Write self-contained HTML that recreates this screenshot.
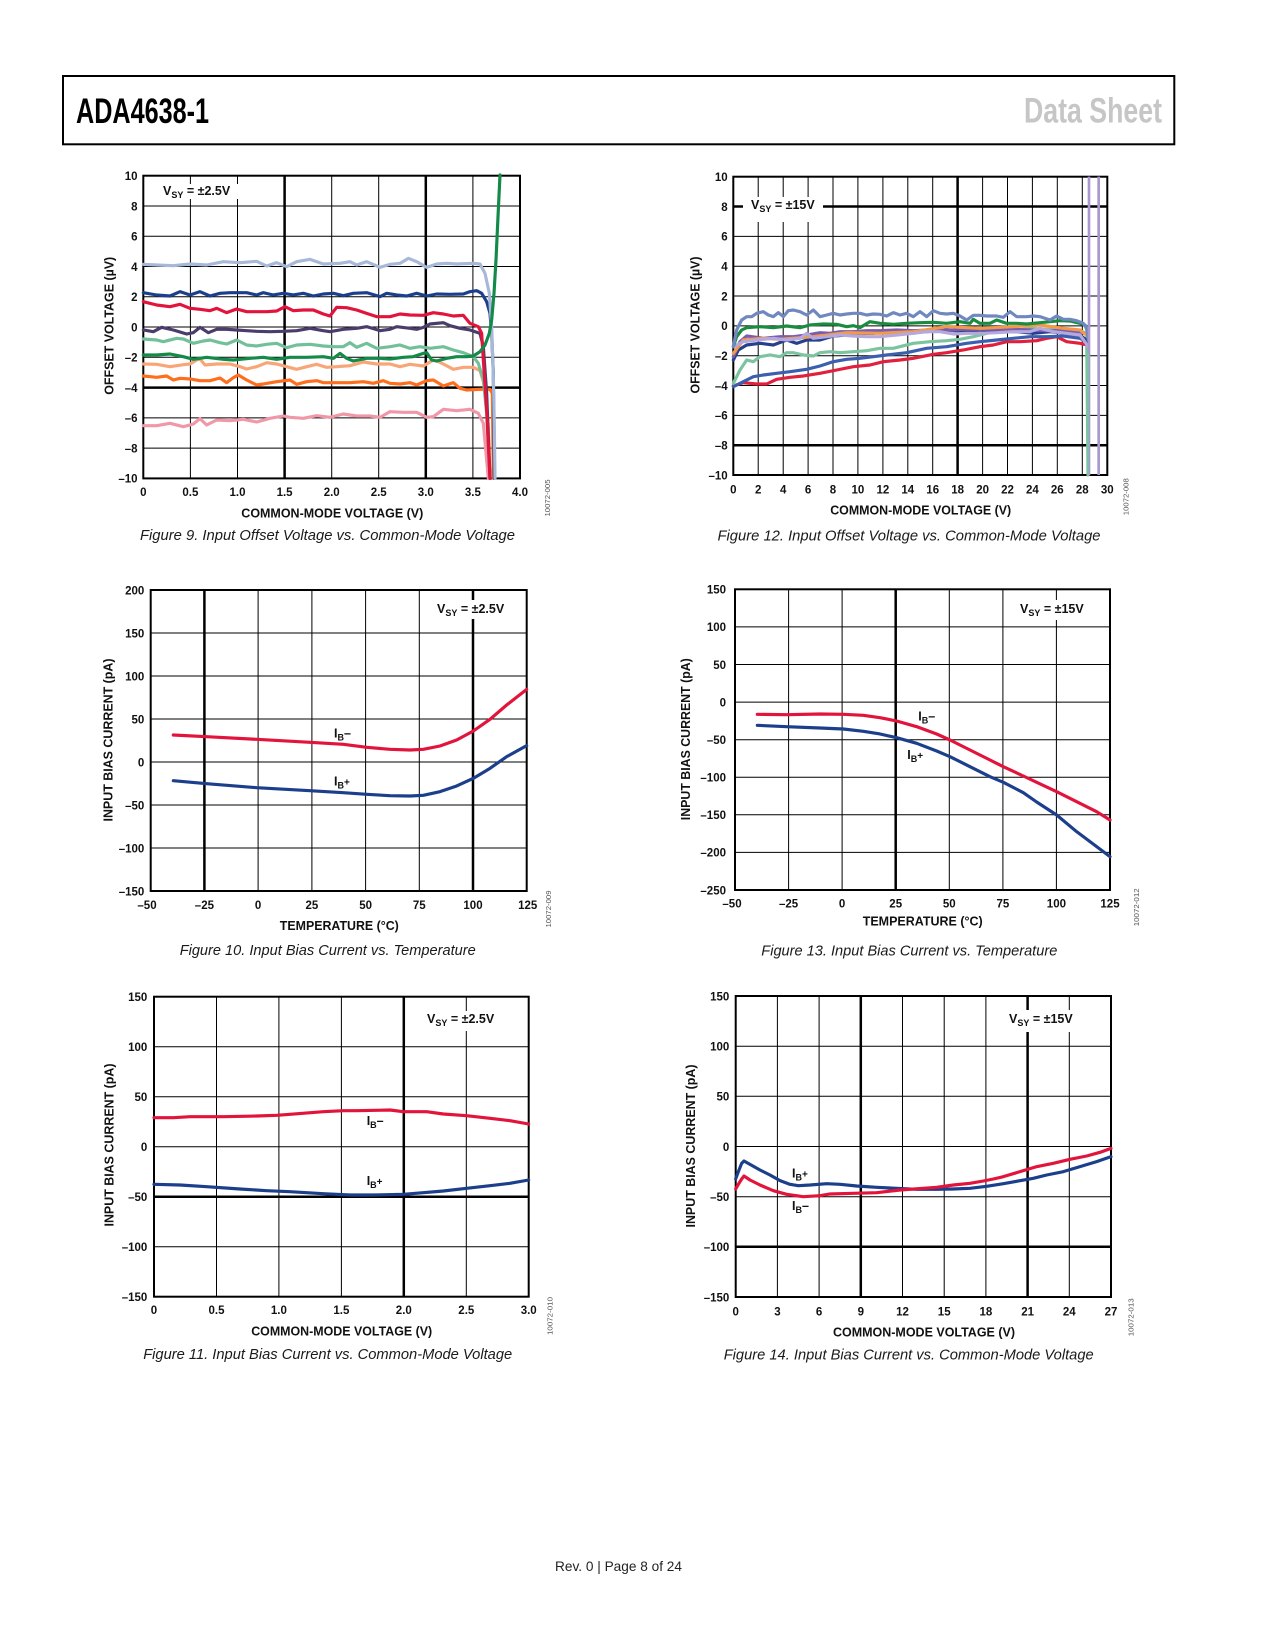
<!DOCTYPE html>
<html><head><meta charset="utf-8"><style>
html,body{margin:0;padding:0;background:#fff;}
svg{display:block;font-family:"Liberation Sans",Arial,sans-serif;}
.tk{font-size:11.5px;font-weight:bold;fill:#111;}
.ax{font-size:12.5px;font-weight:bold;fill:#111;}
.cap{font-size:15px;font-style:italic;fill:#1a1a1a;}
.id{font-size:7px;fill:#555;}
.lb{font-size:12.5px;font-weight:bold;fill:#111;}
.c{fill:none;stroke-width:9.5;stroke-linejoin:round;stroke-linecap:round;}
</style></head><body>
<svg width="1275" height="1650" viewBox="0 0 1275 1650" xmlns="http://www.w3.org/2000/svg">
<rect width="1275" height="1650" fill="#fff"/>
<!-- header -->
<rect x="63" y="76" width="1111.3" height="68.3" fill="none" stroke="#000" stroke-width="2"/>
<text x="76" y="123" font-size="35" font-weight="bold" fill="#000" textLength="133" lengthAdjust="spacingAndGlyphs">ADA4638-1</text>
<text x="1024" y="122.7" font-size="35" font-weight="bold" fill="#c6c6c6" textLength="138" lengthAdjust="spacingAndGlyphs">Data Sheet</text>

<!-- ============ FIG 9 ============ -->
<g stroke="#000" stroke-width="1">
<line x1="190.4" y1="175.7" x2="190.4" y2="478.4"/><line x1="237.5" y1="175.7" x2="237.5" y2="478.4"/><line x1="331.7" y1="175.7" x2="331.7" y2="478.4"/><line x1="378.7" y1="175.7" x2="378.7" y2="478.4"/><line x1="472.9" y1="175.7" x2="472.9" y2="478.4"/>
<line x1="143.3" y1="206" x2="520" y2="206"/><line x1="143.3" y1="236.2" x2="520" y2="236.2"/><line x1="143.3" y1="266.5" x2="520" y2="266.5"/><line x1="143.3" y1="296.8" x2="520" y2="296.8"/><line x1="143.3" y1="327" x2="520" y2="327"/><line x1="143.3" y1="357.3" x2="520" y2="357.3"/><line x1="143.3" y1="417.9" x2="520" y2="417.9"/><line x1="143.3" y1="448.1" x2="520" y2="448.1"/>
</g>
<g stroke="#000" stroke-width="2.5">
<line x1="284.6" y1="175.7" x2="284.6" y2="478.4"/><line x1="425.8" y1="175.7" x2="425.8" y2="478.4"/>
<line x1="143.3" y1="387.6" x2="520" y2="387.6"/>
</g>
<rect x="143.3" y="175.7" width="376.7" height="302.7" fill="none" stroke="#000" stroke-width="2"/>
<rect x="155" y="184" width="83" height="15" fill="#fff"/>
<text class="lb" x="163" y="195">V<tspan font-size="9" dy="3">SY</tspan><tspan dy="-3"> = ±2.5V</tspan></text>
<g transform="translate(90,160) scale(0.33333)">
<polyline class="c" stroke="#f098a8" points="160,797 200,797 240,790 280,800 310,792 330,776 350,795 380,780 420,782 460,778 500,786 540,775 580,768 600,772 640,775 680,767 720,772 760,762 800,768 840,768 870,772 900,755 940,757 980,757 1010,772 1030,770 1060,748 1100,752 1140,748 1165,760 1180,790 1190,900 1195,955"/>
<polyline class="c" stroke="#f8a678" points="160,612 200,613 240,620 280,614 300,612 320,600 330,597 345,615 380,612 420,612 450,620 470,627 500,620 530,608 560,612 590,620 620,628 650,620 680,613 710,622 740,620 780,617 820,606 860,612 900,612 930,620 960,613 1000,618 1030,600 1045,605 1060,612 1090,628 1120,622 1150,622 1170,632 1185,680 1195,800 1200,955"/>
<polyline class="c" stroke="#ff6e1c" points="160,648 200,652 230,648 250,660 270,655 300,657 330,662 360,662 390,654 410,668 430,653 445,645 470,660 500,675 520,672 560,665 600,660 620,673 650,665 680,662 700,668 740,668 780,668 820,665 850,670 880,662 900,670 930,672 960,668 980,675 1010,662 1030,660 1060,678 1090,668 1110,685 1130,690 1170,688 1200,688 1207,700 1210,955"/>
<polyline class="c" stroke="#72c09a" points="160,537 200,540 220,545 260,535 280,537 310,550 340,543 360,540 390,548 410,552 440,540 470,555 500,558 530,553 560,550 590,563 620,555 660,553 700,558 730,560 760,560 780,548 800,562 830,550 860,565 900,560 930,555 960,565 990,560 1020,565 1060,560 1090,570 1120,578 1150,590 1165,610 1180,660 1190,760 1200,955"/>
<polyline class="c" stroke="#4b3c6b" points="160,510 190,515 215,502 250,510 290,522 310,518 330,502 355,518 380,508 410,508 440,510 470,512 500,514 540,515 580,514 620,512 660,505 700,512 720,515 760,508 800,505 830,500 870,512 900,508 920,500 960,505 980,508 1000,502 1020,492 1060,488 1080,497 1110,505 1140,510 1170,520 1180,560 1190,700 1200,955"/>
<polyline class="c" stroke="#e3143c" points="160,425 200,435 240,440 270,433 300,445 330,448 360,452 380,445 410,458 440,447 470,455 500,455 530,455 560,453 585,440 610,452 640,450 670,450 700,462 720,468 740,442 770,443 800,450 830,460 860,470 900,470 930,462 960,465 1000,466 1030,458 1060,462 1090,468 1120,466 1140,490 1165,500 1175,520 1180,600 1190,750 1200,955"/>
<polyline class="c" stroke="#1c3f8c" points="160,398 200,405 240,408 270,395 300,405 330,395 360,408 390,400 420,398 470,398 500,405 520,398 550,405 580,400 610,405 640,400 670,408 700,402 730,400 760,407 790,400 830,398 870,410 890,400 920,405 950,408 980,400 1010,408 1040,402 1080,403 1120,402 1140,395 1160,392 1175,400 1190,425 1200,460 1205,520 1210,640 1213,955"/>
<polyline class="c" stroke="#a8b8d8" points="160,313 200,315 250,317 300,312 350,315 400,305 450,308 500,304 530,318 560,308 590,320 620,305 660,298 700,312 750,310 780,305 800,315 830,305 870,322 900,313 930,310 955,295 980,305 1010,322 1040,312 1070,310 1100,312 1150,310 1170,312 1185,340 1198,400 1205,500 1210,650 1213,800 1215,955"/>
<polyline class="c" stroke="#138a48" points="160,585 200,585 240,582 280,590 310,598 350,592 400,598 430,600 480,595 520,592 560,598 600,592 650,592 700,590 730,595 750,580 770,595 790,603 830,595 870,595 900,597 940,592 970,590 1000,580 1010,578 1025,600 1040,603 1070,595 1100,590 1130,590 1150,588 1170,575 1185,555 1198,520 1205,480 1212,400 1218,300 1224,170 1230,45"/>
</g>
<g class="tk" text-anchor="end">
<text x="137.5" y="180">10</text><text x="137.5" y="210.3">8</text><text x="137.5" y="240.5">6</text><text x="137.5" y="270.8">4</text><text x="137.5" y="301.1">2</text><text x="137.5" y="331.3">0</text><text x="137.5" y="361.6">–2</text><text x="137.5" y="391.9">–4</text><text x="137.5" y="422.2">–6</text><text x="137.5" y="452.4">–8</text><text x="137.5" y="482.7">–10</text>
</g>
<g class="tk" text-anchor="middle">
<text x="143.3" y="496">0</text><text x="190.4" y="496">0.5</text><text x="237.5" y="496">1.0</text><text x="284.6" y="496">1.5</text><text x="331.7" y="496">2.0</text><text x="378.7" y="496">2.5</text><text x="425.8" y="496">3.0</text><text x="472.9" y="496">3.5</text><text x="520" y="496">4.0</text>
</g>
<text class="ax" x="332.3" y="517.3" text-anchor="middle" textLength="182" lengthAdjust="spacingAndGlyphs">COMMON-MODE VOLTAGE (V)</text>
<text class="ax" transform="translate(113.3,325.8) rotate(-90)" text-anchor="middle" textLength="138" lengthAdjust="spacingAndGlyphs">OFFSET VOLTAGE (µV)</text>
<text class="id" transform="translate(550,498) rotate(-90)" text-anchor="middle" textLength="37" lengthAdjust="spacingAndGlyphs">10072-005</text>
<text class="cap" x="327.5" y="540" text-anchor="middle" textLength="375" lengthAdjust="spacingAndGlyphs">Figure 9. Input Offset Voltage vs. Common-Mode Voltage</text>

<!-- ============ FIG 12 ============ -->
<g stroke="#000" stroke-width="1">
<line x1="758.2" y1="176.7" x2="758.2" y2="475"/><line x1="783.2" y1="176.7" x2="783.2" y2="475"/><line x1="808.1" y1="176.7" x2="808.1" y2="475"/><line x1="833" y1="176.7" x2="833" y2="475"/><line x1="857.9" y1="176.7" x2="857.9" y2="475"/><line x1="882.9" y1="176.7" x2="882.9" y2="475"/><line x1="907.8" y1="176.7" x2="907.8" y2="475"/><line x1="932.7" y1="176.7" x2="932.7" y2="475"/><line x1="982.6" y1="176.7" x2="982.6" y2="475"/><line x1="1007.5" y1="176.7" x2="1007.5" y2="475"/><line x1="1032.4" y1="176.7" x2="1032.4" y2="475"/><line x1="1057.3" y1="176.7" x2="1057.3" y2="475"/><line x1="1082.3" y1="176.7" x2="1082.3" y2="475"/>
<line x1="733.3" y1="236.4" x2="1107.3" y2="236.4"/><line x1="733.3" y1="266.2" x2="1107.3" y2="266.2"/><line x1="733.3" y1="296" x2="1107.3" y2="296"/><line x1="733.3" y1="325.9" x2="1107.3" y2="325.9"/><line x1="733.3" y1="355.7" x2="1107.3" y2="355.7"/><line x1="733.3" y1="385.5" x2="1107.3" y2="385.5"/><line x1="733.3" y1="415.4" x2="1107.3" y2="415.4"/>
</g>
<g stroke="#000" stroke-width="2.5">
<line x1="957.6" y1="176.7" x2="957.6" y2="475"/>
<line x1="733.3" y1="206.5" x2="1107.3" y2="206.5"/><line x1="733.3" y1="445.2" x2="1107.3" y2="445.2"/>
</g>
<rect x="733.3" y="176.7" width="374" height="298.3" fill="none" stroke="#000" stroke-width="2"/>
<rect x="743" y="197" width="80" height="25" fill="#fff"/>
<text class="lb" x="751" y="209">V<tspan font-size="9" dy="3">SY</tspan><tspan dy="-3"> = ±15V</tspan></text>
<g transform="translate(680,160) scale(0.33333)">
<polyline class="c" stroke="#e0203c" points="160,678 190,668 230,672 260,672 290,658 330,652 370,648 420,640 470,630 520,620 570,615 610,605 660,600 700,595 760,583 800,578 850,570 900,560 940,555 980,545 1020,545 1070,542 1100,535 1130,530 1160,545 1200,550 1220,555"/>
<polyline class="c" stroke="#3b5fae" points="160,680 190,665 220,650 250,645 290,640 330,635 380,628 420,618 460,605 500,598 540,595 580,590 620,585 680,578 740,565 800,560 860,550 900,545 950,540 1000,535 1050,530 1100,530 1150,528 1200,535 1220,545"/>
<polyline class="c" stroke="#7cc4a0" points="160,670 180,630 200,600 220,605 240,590 270,585 300,590 320,578 340,578 370,585 400,588 420,578 450,575 480,578 520,575 560,572 600,565 640,565 700,550 750,545 800,542 840,538 880,530 920,520 960,508 1000,512 1050,505 1100,508 1150,510 1200,512 1220,520 1224,945"/>
<polyline class="c" stroke="#27408b" points="160,600 175,570 200,555 240,550 280,555 320,540 350,550 380,540 420,540 460,528 500,525 540,520 580,520 620,515 680,512 740,515 800,510 860,515 900,510 960,515 1010,515 1060,520 1110,515 1160,520 1200,525 1225,545"/>
<polyline class="c" stroke="#7a5cb0" points="160,590 180,545 200,528 250,535 300,530 340,530 380,525 420,518 450,520 480,515 520,515 560,512 600,512 650,510 700,512 750,510 800,512 850,508 900,508 950,508 1000,508 1050,510 1100,512 1150,512 1200,515 1225,525"/>
<polyline class="c" stroke="#f39a4a" points="160,580 190,540 250,535 300,538 400,530 500,518 600,520 700,515 800,500 900,505 1000,500 1080,495 1150,505 1200,510 1225,530"/>
<polyline class="c" stroke="#b4a8dc" points="160,560 190,545 230,540 280,535 320,540 360,535 380,520 400,535 440,530 480,525 520,528 560,530 600,530 650,525 700,520 740,515 780,515 820,522 860,520 900,520 950,518 1000,515 1050,515 1080,505 1120,515 1160,520 1200,525 1225,560"/>
<polyline class="c" stroke="#1a8c40" points="160,560 170,530 185,510 200,503 240,500 280,503 320,498 360,503 390,495 430,492 470,493 500,500 520,497 540,503 570,485 600,490 640,493 680,490 720,488 760,487 800,490 840,485 870,490 880,478 900,490 930,490 950,480 980,490 1010,490 1040,492 1080,488 1110,485 1140,482 1170,483 1200,490 1215,495 1225,520"/>
<polyline class="c" stroke="#7088c0" points="160,560 170,510 185,480 200,470 215,470 230,460 250,455 265,465 280,470 295,458 310,470 325,452 340,450 360,455 380,465 400,450 420,470 440,465 460,460 480,465 500,462 520,460 540,460 560,465 580,462 600,463 620,468 640,458 660,465 680,460 700,470 720,455 740,470 760,452 780,460 800,462 820,460 840,468 860,480 880,466 900,466 920,468 950,468 970,472 990,455 1010,470 1040,470 1060,468 1080,470 1110,480 1130,468 1150,478 1170,478 1190,482 1210,490 1220,505 1225,540"/>
<line x1="1227" y1="50" x2="1227" y2="945" stroke="#a898d0" stroke-width="8"/>
<line x1="1256" y1="50" x2="1256" y2="945" stroke="#a898d0" stroke-width="8"/>
<line x1="1223" y1="580" x2="1223" y2="945" stroke="#7cc4a0" stroke-width="7"/>
</g>
<g class="tk" text-anchor="end">
<text x="727.7" y="181">10</text><text x="727.7" y="210.8">8</text><text x="727.7" y="240.7">6</text><text x="727.7" y="270.5">4</text><text x="727.7" y="300.3">2</text><text x="727.7" y="330.2">0</text><text x="727.7" y="360">–2</text><text x="727.7" y="389.8">–4</text><text x="727.7" y="419.7">–6</text><text x="727.7" y="449.5">–8</text><text x="727.7" y="479.3">–10</text>
</g>
<g class="tk" text-anchor="middle">
<text x="733.3" y="493.3">0</text><text x="758.2" y="493.3">2</text><text x="783.2" y="493.3">4</text><text x="808.1" y="493.3">6</text><text x="833" y="493.3">8</text><text x="857.9" y="493.3">10</text><text x="882.9" y="493.3">12</text><text x="907.8" y="493.3">14</text><text x="932.7" y="493.3">16</text><text x="957.6" y="493.3">18</text><text x="982.6" y="493.3">20</text><text x="1007.5" y="493.3">22</text><text x="1032.4" y="493.3">24</text><text x="1057.3" y="493.3">26</text><text x="1082.3" y="493.3">28</text><text x="1107.3" y="493.3">30</text>
</g>
<text class="ax" x="920.7" y="514.3" text-anchor="middle" textLength="181" lengthAdjust="spacingAndGlyphs">COMMON-MODE VOLTAGE (V)</text>
<text class="ax" transform="translate(699.3,325) rotate(-90)" text-anchor="middle" textLength="137" lengthAdjust="spacingAndGlyphs">OFFSET VOLTAGE (µV)</text>
<text class="id" transform="translate(1128.3,496.7) rotate(-90)" text-anchor="middle" textLength="37" lengthAdjust="spacingAndGlyphs">10072-008</text>
<text class="cap" x="909" y="540.7" text-anchor="middle" textLength="383" lengthAdjust="spacingAndGlyphs">Figure 12. Input Offset Voltage vs. Common-Mode Voltage</text>

<!-- ============ FIG 10 ============ -->
<g stroke="#000" stroke-width="1">
<line x1="258.1" y1="590" x2="258.1" y2="891"/><line x1="311.9" y1="590" x2="311.9" y2="891"/><line x1="365.6" y1="590" x2="365.6" y2="891"/><line x1="419.3" y1="590" x2="419.3" y2="891"/>
<line x1="150.7" y1="633" x2="526.7" y2="633"/><line x1="150.7" y1="676" x2="526.7" y2="676"/><line x1="150.7" y1="719" x2="526.7" y2="719"/><line x1="150.7" y1="762" x2="526.7" y2="762"/><line x1="150.7" y1="805" x2="526.7" y2="805"/><line x1="150.7" y1="848" x2="526.7" y2="848"/>
</g>
<g stroke="#000" stroke-width="2.5">
<line x1="204.4" y1="590" x2="204.4" y2="891"/><line x1="473" y1="590" x2="473" y2="891"/>
</g>
<rect x="150.7" y="590" width="376" height="301" fill="none" stroke="#000" stroke-width="2"/>
<rect x="432" y="600" width="78" height="19" fill="#fff"/>
<text class="lb" x="437" y="613">V<tspan font-size="9" dy="3">SY</tspan><tspan dy="-3"> = ±2.5V</tspan></text>
<g transform="translate(90,570) scale(0.33333)">
<polyline class="c" stroke="#e3143c" points="250,495 350,500 500,508 660,517 760,523 830,532 900,538 960,540 1000,538 1050,528 1100,510 1150,483 1200,448 1250,405 1310,358"/>
<polyline class="c" stroke="#1c3f8c" points="250,632 350,641 500,653 660,662 760,668 830,673 900,677 960,678 1000,676 1050,665 1100,648 1150,625 1200,595 1250,560 1310,527"/>
</g>
<text class="lb" x="334" y="737.7">I<tspan font-size="9" dy="3">B</tspan><tspan dy="-3">–</tspan></text>
<text class="lb" x="334" y="785.3">I<tspan font-size="9" dy="3">B</tspan><tspan dy="-3" font-size="10">+</tspan></text>
<g class="tk" text-anchor="end">
<text x="144.3" y="594.3">200</text><text x="144.3" y="637.3">150</text><text x="144.3" y="680.3">100</text><text x="144.3" y="723.3">50</text><text x="144.3" y="766.3">0</text><text x="144.3" y="809.3">–50</text><text x="144.3" y="852.3">–100</text><text x="144.3" y="895.3">–150</text>
</g>
<g class="tk" text-anchor="middle">
<text x="147" y="909">–50</text><text x="204.4" y="909">–25</text><text x="258.1" y="909">0</text><text x="311.9" y="909">25</text><text x="365.6" y="909">50</text><text x="419.3" y="909">75</text><text x="473" y="909">100</text><text x="527.7" y="909">125</text>
</g>
<text class="ax" x="339.3" y="930" text-anchor="middle" textLength="119" lengthAdjust="spacingAndGlyphs">TEMPERATURE (°C)</text>
<text class="ax" transform="translate(112.3,740) rotate(-90)" text-anchor="middle" textLength="163" lengthAdjust="spacingAndGlyphs">INPUT BIAS CURRENT (pA)</text>
<text class="id" transform="translate(551,909) rotate(-90)" text-anchor="middle" textLength="37" lengthAdjust="spacingAndGlyphs">10072-009</text>
<text class="cap" x="327.7" y="955" text-anchor="middle" textLength="296" lengthAdjust="spacingAndGlyphs">Figure 10. Input Bias Current vs. Temperature</text>

<!-- ============ FIG 13 ============ -->
<g stroke="#000" stroke-width="1">
<line x1="788.6" y1="589.3" x2="788.6" y2="890"/><line x1="842.1" y1="589.3" x2="842.1" y2="890"/><line x1="949.3" y1="589.3" x2="949.3" y2="890"/><line x1="1002.9" y1="589.3" x2="1002.9" y2="890"/><line x1="1056.4" y1="589.3" x2="1056.4" y2="890"/>
<line x1="735" y1="626.9" x2="1110" y2="626.9"/><line x1="735" y1="664.5" x2="1110" y2="664.5"/><line x1="735" y1="702.1" x2="1110" y2="702.1"/><line x1="735" y1="739.7" x2="1110" y2="739.7"/><line x1="735" y1="777.2" x2="1110" y2="777.2"/><line x1="735" y1="814.8" x2="1110" y2="814.8"/><line x1="735" y1="852.4" x2="1110" y2="852.4"/>
</g>
<g stroke="#000" stroke-width="2.5">
<line x1="895.7" y1="589.3" x2="895.7" y2="890"/>
</g>
<rect x="735" y="589.3" width="375" height="300.7" fill="none" stroke="#000" stroke-width="2"/>
<rect x="1016" y="600" width="74" height="20" fill="#fff"/>
<text class="lb" x="1020" y="613">V<tspan font-size="9" dy="3">SY</tspan><tspan dy="-3"> = ±15V</tspan></text>
<g transform="translate(670,570) scale(0.33333)">
<polyline class="c" stroke="#e3143c" points="262,433 350,434 450,432 520,433 580,436 630,443 680,453 740,470 800,492 840,510 900,540 960,570 1000,590 1060,618 1100,637 1160,665 1220,695 1280,725 1320,750"/>
<polyline class="c" stroke="#1c3f8c" points="262,466 350,470 450,474 520,477 580,484 630,492 680,503 740,520 800,543 840,560 900,590 960,620 1000,637 1060,668 1100,696 1160,735 1220,785 1280,830 1320,860"/>
</g>
<text class="lb" x="918.3" y="720.7">I<tspan font-size="9" dy="3">B</tspan><tspan dy="-3">–</tspan></text>
<text class="lb" x="907.3" y="759">I<tspan font-size="9" dy="3">B</tspan><tspan dy="-3" font-size="10">+</tspan></text>
<g class="tk" text-anchor="end">
<text x="726" y="593.6">150</text><text x="726" y="631.2">100</text><text x="726" y="668.8">50</text><text x="726" y="706.4">0</text><text x="726" y="744">–50</text><text x="726" y="781.5">–100</text><text x="726" y="819.1">–150</text><text x="726" y="856.7">–200</text><text x="726" y="894.3">–250</text>
</g>
<g class="tk" text-anchor="middle">
<text x="732" y="907.7">–50</text><text x="788.6" y="907.7">–25</text><text x="842.1" y="907.7">0</text><text x="895.7" y="907.7">25</text><text x="949.3" y="907.7">50</text><text x="1002.9" y="907.7">75</text><text x="1056.4" y="907.7">100</text><text x="1110" y="907.7">125</text>
</g>
<text class="ax" x="922.7" y="925.7" text-anchor="middle" textLength="120" lengthAdjust="spacingAndGlyphs">TEMPERATURE (°C)</text>
<text class="ax" transform="translate(690,739.2) rotate(-90)" text-anchor="middle" textLength="162" lengthAdjust="spacingAndGlyphs">INPUT BIAS CURRENT (pA)</text>
<text class="id" transform="translate(1139,907.3) rotate(-90)" text-anchor="middle" textLength="38" lengthAdjust="spacingAndGlyphs">10072-012</text>
<text class="cap" x="909.3" y="955.7" text-anchor="middle" textLength="296" lengthAdjust="spacingAndGlyphs">Figure 13. Input Bias Current vs. Temperature</text>

<!-- ============ FIG 11 ============ -->
<g stroke="#000" stroke-width="1">
<line x1="216.5" y1="996.7" x2="216.5" y2="1296.7"/><line x1="278.9" y1="996.7" x2="278.9" y2="1296.7"/><line x1="341.4" y1="996.7" x2="341.4" y2="1296.7"/><line x1="466.3" y1="996.7" x2="466.3" y2="1296.7"/>
<line x1="154" y1="1046.7" x2="528.7" y2="1046.7"/><line x1="154" y1="1096.7" x2="528.7" y2="1096.7"/><line x1="154" y1="1146.7" x2="528.7" y2="1146.7"/><line x1="154" y1="1246.7" x2="528.7" y2="1246.7"/>
</g>
<g stroke="#000" stroke-width="2.5">
<line x1="403.8" y1="996.7" x2="403.8" y2="1296.7"/>
<line x1="154" y1="1196.7" x2="528.7" y2="1196.7"/>
</g>
<rect x="154" y="996.7" width="374.7" height="300" fill="none" stroke="#000" stroke-width="2"/>
<rect x="423" y="1011" width="77" height="20" fill="#fff"/>
<text class="lb" x="427" y="1023">V<tspan font-size="9" dy="3">SY</tspan><tspan dy="-3"> = ±2.5V</tspan></text>
<g transform="translate(90,975) scale(0.33333)">
<polyline class="c" stroke="#e3143c" points="192,428 250,428 300,425 400,425 500,423 560,421 600,418 700,410 760,407 800,407 900,405 940,410 1010,410 1060,417 1130,422 1200,430 1260,437 1316,447"/>
<polyline class="c" stroke="#1c3f8c" points="192,628 270,630 350,635 450,642 530,647 600,650 700,656 780,660 850,660 940,658 1000,653 1060,648 1130,640 1200,632 1260,625 1316,615"/>
</g>
<text class="lb" x="366.7" y="1125">I<tspan font-size="9" dy="3">B</tspan><tspan dy="-3">–</tspan></text>
<text class="lb" x="366.7" y="1185">I<tspan font-size="9" dy="3">B</tspan><tspan dy="-3" font-size="10">+</tspan></text>
<g class="tk" text-anchor="end">
<text x="147.3" y="1001">150</text><text x="147.3" y="1051">100</text><text x="147.3" y="1101">50</text><text x="147.3" y="1151">0</text><text x="147.3" y="1201">–50</text><text x="147.3" y="1251">–100</text><text x="147.3" y="1301">–150</text>
</g>
<g class="tk" text-anchor="middle">
<text x="154" y="1314">0</text><text x="216.5" y="1314">0.5</text><text x="278.9" y="1314">1.0</text><text x="341.4" y="1314">1.5</text><text x="403.8" y="1314">2.0</text><text x="466.3" y="1314">2.5</text><text x="528.7" y="1314">3.0</text>
</g>
<text class="ax" x="341.7" y="1335.7" text-anchor="middle" textLength="181" lengthAdjust="spacingAndGlyphs">COMMON-MODE VOLTAGE (V)</text>
<text class="ax" transform="translate(113.3,1145) rotate(-90)" text-anchor="middle" textLength="163" lengthAdjust="spacingAndGlyphs">INPUT BIAS CURRENT (pA)</text>
<text class="id" transform="translate(552.3,1316) rotate(-90)" text-anchor="middle" textLength="38" lengthAdjust="spacingAndGlyphs">10072-010</text>
<text class="cap" x="327.7" y="1359" text-anchor="middle" textLength="369" lengthAdjust="spacingAndGlyphs">Figure 11. Input Bias Current vs. Common-Mode Voltage</text>

<!-- ============ FIG 14 ============ -->
<g stroke="#000" stroke-width="1">
<line x1="777.4" y1="996" x2="777.4" y2="1297"/><line x1="819.1" y1="996" x2="819.1" y2="1297"/><line x1="902.5" y1="996" x2="902.5" y2="1297"/><line x1="944.2" y1="996" x2="944.2" y2="1297"/><line x1="985.9" y1="996" x2="985.9" y2="1297"/><line x1="1069.3" y1="996" x2="1069.3" y2="1297"/>
<line x1="735.7" y1="1046.2" x2="1111" y2="1046.2"/><line x1="735.7" y1="1096.3" x2="1111" y2="1096.3"/><line x1="735.7" y1="1146.5" x2="1111" y2="1146.5"/><line x1="735.7" y1="1196.7" x2="1111" y2="1196.7"/>
</g>
<g stroke="#000" stroke-width="2.5">
<line x1="860.8" y1="996" x2="860.8" y2="1297"/><line x1="1027.6" y1="996" x2="1027.6" y2="1297"/>
<line x1="735.7" y1="1246.8" x2="1111" y2="1246.8"/>
</g>
<rect x="735.7" y="996" width="375.3" height="301" fill="none" stroke="#000" stroke-width="2"/>
<rect x="1005" y="1010" width="74" height="22" fill="#fff"/>
<text class="lb" x="1009" y="1023">V<tspan font-size="9" dy="3">SY</tspan><tspan dy="-3"> = ±15V</tspan></text>
<g transform="translate(670,975) scale(0.33333)">
<polyline class="c" stroke="#1c3f8c" points="197,612 205,590 215,565 222,558 240,568 270,585 300,600 330,617 360,628 385,632 420,630 470,626 510,628 560,633 620,637 680,640 740,643 800,643 850,642 900,640 950,634 1000,626 1050,617 1090,610 1130,600 1180,590 1230,575 1280,560 1323,545"/>
<polyline class="c" stroke="#e3143c" points="197,642 205,628 215,612 222,603 240,615 270,630 310,647 350,658 400,665 450,662 480,657 550,655 620,653 690,645 760,640 800,637 850,630 900,625 940,618 970,612 1000,605 1050,590 1100,575 1150,565 1200,553 1250,543 1290,532 1323,520"/>
</g>
<text class="lb" x="792" y="1177.7">I<tspan font-size="9" dy="3">B</tspan><tspan dy="-3" font-size="10">+</tspan></text>
<text class="lb" x="792" y="1210">I<tspan font-size="9" dy="3">B</tspan><tspan dy="-3">–</tspan></text>
<g class="tk" text-anchor="end">
<text x="729.3" y="1000.3">150</text><text x="729.3" y="1050.5">100</text><text x="729.3" y="1100.6">50</text><text x="729.3" y="1150.8">0</text><text x="729.3" y="1201">–50</text><text x="729.3" y="1251.1">–100</text><text x="729.3" y="1301.3">–150</text>
</g>
<g class="tk" text-anchor="middle">
<text x="735.7" y="1315.7">0</text><text x="777.4" y="1315.7">3</text><text x="819.1" y="1315.7">6</text><text x="860.8" y="1315.7">9</text><text x="902.5" y="1315.7">12</text><text x="944.2" y="1315.7">15</text><text x="985.9" y="1315.7">18</text><text x="1027.6" y="1315.7">21</text><text x="1069.3" y="1315.7">24</text><text x="1111" y="1315.7">27</text>
</g>
<text class="ax" x="924" y="1336.7" text-anchor="middle" textLength="182" lengthAdjust="spacingAndGlyphs">COMMON-MODE VOLTAGE (V)</text>
<text class="ax" transform="translate(695,1146) rotate(-90)" text-anchor="middle" textLength="163" lengthAdjust="spacingAndGlyphs">INPUT BIAS CURRENT (pA)</text>
<text class="id" transform="translate(1133.3,1317.3) rotate(-90)" text-anchor="middle" textLength="38" lengthAdjust="spacingAndGlyphs">10072-013</text>
<text class="cap" x="908.7" y="1359.3" text-anchor="middle" textLength="370" lengthAdjust="spacingAndGlyphs">Figure 14. Input Bias Current vs. Common-Mode Voltage</text>

<!-- footer -->
<text x="555" y="1571" font-size="14" fill="#231f20" textLength="127" lengthAdjust="spacingAndGlyphs">Rev. 0 | Page 8 of 24</text>
</svg>
</body></html>
